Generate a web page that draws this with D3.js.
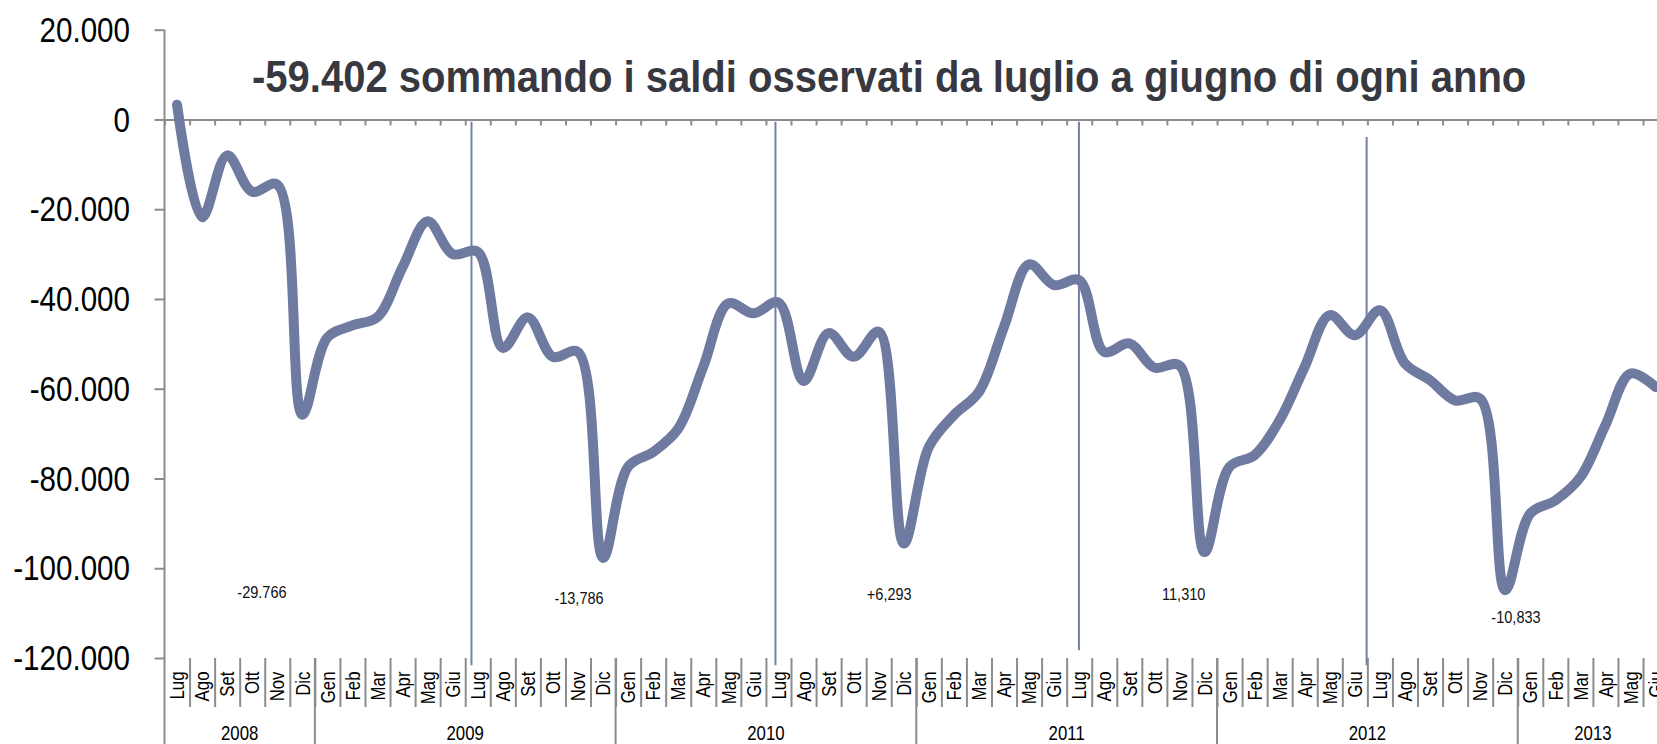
<!DOCTYPE html>
<html>
<head>
<meta charset="utf-8">
<script src="https://cdn.jsdelivr.net/npm/d3@7"></script>
<style>
  html, body { margin: 0; padding: 0; background: #fff; overflow: hidden; }
  svg { display: block; font-family: "Liberation Sans", Arial, sans-serif; }
</style>
</head>
<body>
<svg id="chart" width="1657" height="744"></svg>
<script>
// ---------------- DATA ----------------
const title = "-59.402 sommando i saldi osservati da luglio a giugno di ogni anno";

const categories = [
  "Lug","Ago","Set","Ott","Nov","Dic","Gen","Feb","Mar","Apr","Mag","Giu",
  "Lug","Ago","Set","Ott","Nov","Dic","Gen","Feb","Mar","Apr","Mag","Giu",
  "Lug","Ago","Set","Ott","Nov","Dic","Gen","Feb","Mar","Apr","Mag","Giu",
  "Lug","Ago","Set","Ott","Nov","Dic","Gen","Feb","Mar","Apr","Mag","Giu",
  "Lug","Ago","Set","Ott","Nov","Dic","Gen","Feb","Mar","Apr","Mag","Giu"
];

const saldi = [
  3300, -21800, -8000, -16100, -14500, -65800, -48600, -45900, -44000, -32900, -22700, -30000,
  -29500, -50900, -44100, -52900, -51800, -97700, -77400, -74100, -68900, -55100, -41000, -43200,
  -40800, -58300, -47600, -52900, -47300, -94500, -73000, -65900, -60700, -46200, -32300, -36900,
  -35800, -51800, -49900, -55300, -54800, -96400, -77400, -74800, -67000, -55100, -43600, -48100,
  -42500, -54400, -58100, -62600, -62200, -104900, -87800, -84900, -79700, -68100, -56600, -59600
];

// year groups: label, first category index, last index (exclusive)
const years      = ["2008", "2009", "2010", "2011", "2012", "2013"];
const yearStart  = [0, 6, 18, 30, 42, 54];
const yearEnd    = [6, 18, 30, 42, 54, 60];

const yTicks = [20000, 0, -20000, -40000, -60000, -80000, -100000, -120000];

// hand-drawn separator lines (category position, top value, bottom value)
const sepPos    = [12.25, 24.38, 36.49, 47.97];
const sepTop    = [-500, -500, -500, -3900];
const sepBottom = [-121600, -121600, -118300, -121600];

// annotations (text, category position, value)
const noteText = ["-29.766", "-13,786", "+6,293", "11,310", "-10,833"];
const notePos  = [3.89, 16.54, 28.92, 40.67, 53.93];
const noteVal  = [-105300, -106700, -105800, -105800, -111000];

// ---------------- CHART ----------------
const svg = d3.select("#chart");
const x0 = 164.5, step = 25.06;
const n = categories.length;

const x = d3.scaleBand().domain(d3.range(n)).range([x0, x0 + n * step]).padding(0);
const xl = d3.scaleLinear().domain([0, n]).range([x0, x0 + n * step]);
const y = d3.scaleLinear().domain([-120000, 20000]).range([658, 29.7]);

const it = d3.formatLocale({decimal: ",", thousands: ".", grouping: [3], currency: ["", "€"], minus: "-"});
const fmt = it.format(",d");

const axisColor = "#8c8c8c";

// Y axis (ticks by d3, labels drawn narrow)
const yAxis = svg.append("g")
  .attr("transform", `translate(${x0},0)`)
  .call(d3.axisLeft(y).tickValues(yTicks).tickFormat("").tickSize(10));
yAxis.select(".domain").remove();
yAxis.selectAll(".tick line").attr("stroke", axisColor).attr("stroke-width", 2);
yAxis.selectAll(".tick text").remove();

svg.append("g").selectAll("text")
  .data(yTicks)
  .join("text")
  .attr("transform", d => `translate(130,${y(d)}) scale(0.845,1)`)
  .attr("text-anchor", "end")
  .attr("dy", "0.35em")
  .attr("fill", "#000")
  .style("font-size", "35px")
  .text(d => fmt(d));

svg.append("line")
  .attr("x1", x0).attr("x2", x0)
  .attr("y1", y(20000)).attr("y2", 744)
  .attr("stroke", axisColor).attr("stroke-width", 2);

// Zero axis with minor ticks
const zAxis = svg.append("g")
  .attr("transform", `translate(0,${y(0)})`)
  .call(d3.axisBottom(xl).tickValues(d3.range(0, n + 1)).tickFormat("").tickSize(6).tickSizeOuter(0));
zAxis.select(".domain").attr("stroke", axisColor).attr("stroke-width", 2);
zAxis.selectAll(".tick line").attr("stroke", axisColor).attr("stroke-width", 2);

// Category axis at bottom
const catTop = 658;
const catAxis = svg.append("g")
  .attr("transform", `translate(0,${catTop})`)
  .call(d3.axisBottom(xl).tickValues(d3.range(1, n + 1)).tickFormat("").tickSize(49).tickSizeOuter(0));
catAxis.select(".domain").remove();
catAxis.selectAll(".tick line").attr("stroke", axisColor).attr("stroke-width", 2);

// year separators
svg.append("g").selectAll("line")
  .data(yearStart.slice(1))
  .join("line")
  .attr("x1", d => xl(d)).attr("x2", d => xl(d))
  .attr("y1", catTop).attr("y2", 744)
  .attr("stroke", axisColor).attr("stroke-width", 2);

// month labels
svg.append("g").selectAll("text")
  .data(categories)
  .join("text")
  .attr("transform", (d, i) => `translate(${x(i) + x.bandwidth() / 2},${catTop + 13.5}) rotate(-90) scale(0.84,1)`)
  .attr("text-anchor", "end")
  .attr("dy", "0.36em")
  .attr("fill", "#000")
  .style("font-size", "20px")
  .text(d => d);

// year labels
svg.append("g").selectAll("text")
  .data(years)
  .join("text")
  .attr("transform", (d, i) => `translate(${(xl(yearStart[i]) + xl(yearEnd[i])) / 2},739.5) scale(0.82,1)`)
  .attr("text-anchor", "middle")
  .attr("fill", "#000")
  .style("font-size", "20.5px")
  .text(d => d);

// separator lines
svg.append("g").selectAll("line")
  .data(sepPos)
  .join("line")
  .attr("x1", d => xl(d)).attr("x2", d => xl(d))
  .attr("y1", (d, i) => y(sepTop[i])).attr("y2", (d, i) => y(sepBottom[i]))
  .attr("stroke", "#7480a8").attr("stroke-width", 2);

// series line
const line = d3.line()
  .x((d, i) => x(i) + x.bandwidth() / 2)
  .y(d => y(d))
  .curve(d3.curveCatmullRom.alpha(0.5));
svg.append("path")
  .datum(saldi)
  .attr("d", line)
  .attr("fill", "none")
  .attr("stroke", "#6f7aa1")
  .attr("stroke-width", 10)
  .attr("stroke-linecap", "round")
  .attr("stroke-linejoin", "round");

// annotations
svg.append("g").selectAll("text")
  .data(noteText)
  .join("text")
  .attr("transform", (d, i) => `translate(${xl(notePos[i])},${y(noteVal[i])}) scale(0.88,1)`)
  .attr("dy", "0.35em")
  .attr("text-anchor", "middle")
  .attr("fill", "#111")
  .style("font-size", "16.5px")
  .text(d => d);

// title
const t = svg.append("text")
  .attr("fill", "#383840")
  .style("font-size", "44px")
  .style("font-weight", "bold")
  .text(title);
const w = t.node().getComputedTextLength();
const sx = 1275 / w;
t.attr("transform", `translate(252,91.5) scale(${sx},1)`);
</script>
</body>
</html>
